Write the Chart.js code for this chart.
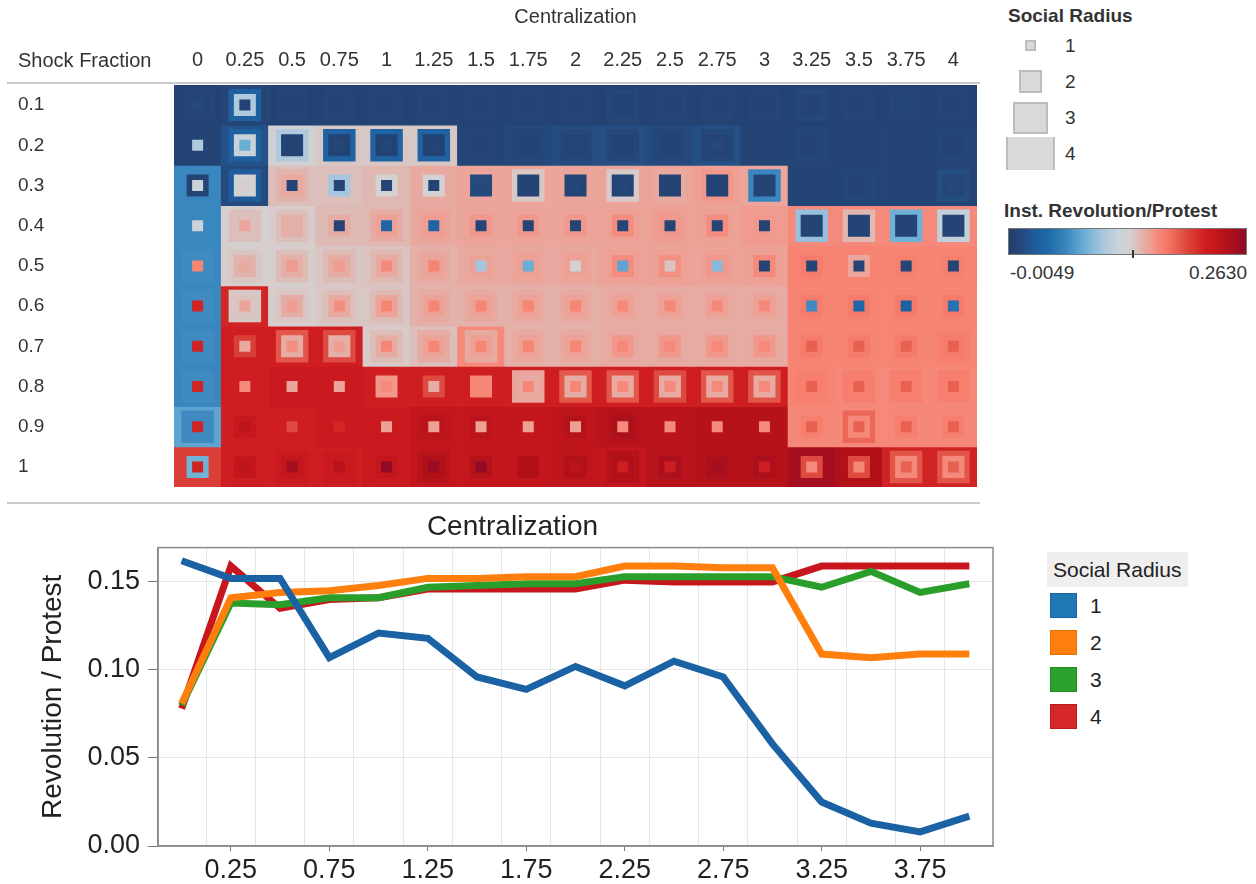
<!DOCTYPE html>
<html><head><meta charset="utf-8">
<script src="https://cdn.jsdelivr.net/npm/chart.js@4.4.1/dist/chart.umd.min.js"></script>
<style>
html,body{margin:0;padding:0;background:#fff;}
body{width:1256px;height:884px;position:relative;overflow:hidden;font-family:"Liberation Sans",Arial,sans-serif;color:#333;}
canvas{position:absolute;left:0;}
#heat{top:0;}
#line{top:505px;}
.abs{position:absolute;white-space:nowrap;}
.sq{position:absolute;box-sizing:border-box;background:#d9d9d9;border:2px solid #bcbcbc;}
.lsq{position:absolute;box-sizing:border-box;width:27px;height:25px;}
</style></head><body>
<canvas id="heat" width="1000" height="510"></canvas>
<canvas id="line" width="1010" height="379"></canvas>

<div class="abs" style="left:18px;top:48px;font-size:20px;line-height:24px;color:#333">Shock Fraction</div>
<div class="abs" style="left:7px;top:82px;width:973px;height:2px;background:#c9c9c9"></div>
<div class="abs" style="left:7px;top:502px;width:973px;height:2px;background:#c9c9c9"></div>

<div class="abs" style="left:1008px;top:4px;font-size:19px;line-height:24px;font-weight:bold;color:#333">Social Radius</div>
<div class="sq" style="left:1025px;top:40px;width:11px;height:11px"></div>
<div class="sq" style="left:1019px;top:70px;width:23px;height:23px"></div>
<div class="sq" style="left:1013px;top:102px;width:35px;height:32px"></div>
<div class="sq" style="left:1006px;top:137px;width:49px;height:33px;border-top:none;border-bottom:none"></div>
<div class="abs" style="left:1065px;top:34px;font-size:19px;line-height:24px">1</div>
<div class="abs" style="left:1065px;top:70px;font-size:19px;line-height:24px">2</div>
<div class="abs" style="left:1065px;top:106px;font-size:19px;line-height:24px">3</div>
<div class="abs" style="left:1065px;top:142px;font-size:19px;line-height:24px">4</div>

<div class="abs" style="left:1004px;top:199px;font-size:19px;line-height:24px;font-weight:bold;color:#333">Inst. Revolution/Protest</div>
<div id="cbar" class="abs" style="left:1008px;top:228px;width:239px;height:27px;box-sizing:border-box;border:1px solid #777"></div>
<div class="abs" style="left:1132px;top:250px;width:2px;height:8px;background:#333"></div>
<div class="abs" style="left:1010px;top:261px;font-size:19px;line-height:24px">-0.0049</div>
<div class="abs" style="right:9px;top:261px;font-size:19px;line-height:24px">0.2630</div>

<div class="abs" style="left:1047px;top:552px;width:141px;height:35px;background:#efefef;font-size:21px;line-height:35px;padding-left:6px;box-sizing:border-box;color:#222">Social Radius</div>
<div class="lsq" style="left:1050px;top:593px;background:#1f77b4;border:1px solid #1a65a0"></div>
<div class="lsq" style="left:1050px;top:630px;background:#ff7f0e;border:1px solid #e87000"></div>
<div class="lsq" style="left:1050px;top:667px;background:#2ca02c;border:1px solid #228a22"></div>
<div class="lsq" style="left:1050px;top:704px;background:#d62728;border:1px solid #b81c1d"></div>
<div class="abs" style="left:1090px;top:593px;font-size:21px;line-height:26px;color:#222">1</div>
<div class="abs" style="left:1090px;top:630px;font-size:21px;line-height:26px;color:#222">2</div>
<div class="abs" style="left:1090px;top:667px;font-size:21px;line-height:26px;color:#222">3</div>
<div class="abs" style="left:1090px;top:704px;font-size:21px;line-height:26px;color:#222">4</div>

<script>
// ---------- DATA ----------
const colLabels = ['0','0.25','0.5','0.75','1','1.25','1.5','1.75','2','2.25','2.5','2.75','3','3.25','3.5','3.75','4'];
const rowLabels = ['0.1','0.2','0.3','0.4','0.5','0.6','0.7','0.8','0.9','1'];
const radiusLabels = ['1','2','3','4'];

// Inst. Revolution/Protest per cell (rows = shock fraction, cols = centralization), one grid per social radius
const radius4 = [
 [0.002,0.004,0.002,0.002,0.002,0.002,0.002,0.002,0.002,0.002,0.002,0.002,0.002,0.002,0.002,0.002,0.002],
 [0.003,0.016,0.128,0.136,0.136,0.136,0.003,0.007,0.012,0.013,0.010,0.014,0.003,0.003,0.003,0.003,0.003],
 [0.060,0.010,0.140,0.140,0.143,0.150,0.152,0.152,0.152,0.153,0.153,0.155,0.152,0.003,0.003,0.003,0.003],
 [0.060,0.132,0.134,0.142,0.143,0.150,0.152,0.152,0.152,0.153,0.154,0.154,0.157,0.163,0.163,0.163,0.163],
 [0.060,0.133,0.133,0.137,0.138,0.146,0.150,0.150,0.150,0.153,0.154,0.153,0.154,0.167,0.167,0.167,0.167],
 [0.060,0.213,0.133,0.136,0.137,0.146,0.146,0.146,0.146,0.148,0.148,0.148,0.148,0.166,0.166,0.166,0.166],
 [0.060,0.218,0.218,0.218,0.135,0.140,0.163,0.146,0.146,0.148,0.148,0.148,0.148,0.166,0.166,0.166,0.166],
 [0.060,0.218,0.222,0.222,0.218,0.218,0.218,0.218,0.218,0.218,0.218,0.218,0.218,0.166,0.164,0.164,0.164],
 [0.075,0.218,0.218,0.222,0.222,0.228,0.228,0.228,0.232,0.236,0.236,0.238,0.238,0.164,0.164,0.164,0.164],
 [0.200,0.218,0.218,0.218,0.222,0.228,0.228,0.228,0.232,0.228,0.236,0.238,0.238,0.250,0.240,0.215,0.215]
];
const radius3 = [
 [0.004,0.030,0.004,0.004,0.004,0.004,0.004,0.004,0.004,0.007,0.004,0.004,0.004,0.008,0.004,0.004,0.004],
 [0.003,0.030,0.105,0.032,0.032,0.032,0.004,0.006,0.006,0.006,0.006,0.006,0.003,0.005,0.003,0.003,0.005],
 [0.060,0.025,0.145,0.140,0.143,0.150,0.152,0.136,0.152,0.135,0.150,0.158,0.060,0.003,0.005,0.003,0.012],
 [0.060,0.140,0.140,0.142,0.148,0.153,0.153,0.153,0.153,0.155,0.156,0.155,0.157,0.095,0.143,0.082,0.115],
 [0.062,0.137,0.141,0.142,0.143,0.150,0.151,0.152,0.152,0.155,0.155,0.155,0.155,0.167,0.167,0.167,0.167],
 [0.062,0.136,0.137,0.140,0.142,0.148,0.150,0.150,0.150,0.150,0.150,0.150,0.150,0.167,0.167,0.167,0.167],
 [0.062,0.218,0.190,0.195,0.141,0.148,0.150,0.150,0.150,0.150,0.150,0.150,0.150,0.167,0.167,0.167,0.170],
 [0.062,0.218,0.222,0.222,0.218,0.218,0.218,0.152,0.188,0.190,0.195,0.190,0.190,0.170,0.170,0.170,0.170],
 [0.062,0.218,0.218,0.222,0.222,0.232,0.228,0.228,0.232,0.238,0.236,0.238,0.238,0.164,0.182,0.164,0.164],
 [0.200,0.218,0.222,0.222,0.222,0.236,0.228,0.228,0.232,0.238,0.236,0.238,0.238,0.250,0.240,0.190,0.190]
];
const radius2 = [
 [0.003,0.105,0.003,0.003,0.003,0.003,0.003,0.003,0.003,0.003,0.003,0.003,0.003,0.003,0.003,0.003,0.003],
 [0.003,0.118,0.002,0.002,0.002,0.002,0.003,0.003,0.003,0.003,0.003,0.003,0.003,0.003,0.003,0.003,0.003],
 [0.003,0.130,0.150,0.100,0.130,0.130,0.010,0.003,0.003,0.003,0.003,0.003,0.003,0.003,0.003,0.003,0.005],
 [0.060,0.140,0.147,0.148,0.155,0.156,0.158,0.158,0.158,0.162,0.158,0.162,0.158,0.003,0.003,0.003,0.003],
 [0.062,0.145,0.147,0.148,0.150,0.153,0.154,0.155,0.155,0.162,0.161,0.158,0.163,0.172,0.152,0.170,0.170],
 [0.062,0.138,0.148,0.150,0.153,0.154,0.154,0.154,0.154,0.155,0.155,0.155,0.155,0.172,0.172,0.172,0.172],
 [0.062,0.200,0.148,0.147,0.148,0.154,0.155,0.154,0.154,0.158,0.158,0.158,0.158,0.172,0.172,0.172,0.172],
 [0.062,0.218,0.222,0.222,0.158,0.195,0.165,0.150,0.148,0.150,0.150,0.150,0.150,0.170,0.170,0.170,0.170],
 [0.062,0.226,0.218,0.222,0.225,0.235,0.235,0.228,0.238,0.245,0.235,0.238,0.238,0.170,0.164,0.170,0.170],
 [0.083,0.228,0.228,0.225,0.228,0.242,0.238,0.240,0.240,0.242,0.245,0.245,0.245,0.195,0.195,0.163,0.163]
];
const radius1 = [
 [0.008,0.002,0.002,0.002,0.002,0.002,0.002,0.002,0.002,0.002,0.002,0.002,0.002,0.002,0.002,0.006,0.002],
 [0.105,0.080,0.002,0.005,0.006,0.004,0.003,0.003,0.004,0.003,0.003,0.008,0.003,0.003,0.003,0.003,0.003],
 [0.120,0.133,0.003,0.003,0.003,0.003,0.008,0.003,0.006,0.006,0.003,0.003,0.003,0.003,0.003,0.003,0.008],
 [0.120,0.152,0.147,0.003,0.035,0.033,0.003,0.003,0.003,0.003,0.003,0.003,0.003,0.003,0.003,0.003,0.003],
 [0.166,0.150,0.157,0.157,0.163,0.167,0.100,0.080,0.130,0.075,0.138,0.090,0.003,0.003,0.003,0.003,0.003],
 [0.215,0.153,0.156,0.162,0.166,0.167,0.166,0.166,0.166,0.164,0.164,0.164,0.164,0.062,0.036,0.030,0.045],
 [0.215,0.150,0.162,0.156,0.166,0.166,0.166,0.166,0.166,0.164,0.164,0.164,0.164,0.185,0.185,0.185,0.185],
 [0.215,0.163,0.152,0.152,0.163,0.148,0.165,0.165,0.165,0.163,0.163,0.163,0.163,0.185,0.185,0.185,0.185],
 [0.215,0.235,0.195,0.212,0.155,0.155,0.155,0.155,0.155,0.163,0.163,0.163,0.163,0.185,0.185,0.185,0.185],
 [0.215,0.234,0.250,0.237,0.262,0.257,0.262,0.240,0.236,0.218,0.218,0.250,0.218,0.163,0.165,0.185,0.185]
];

// Line chart: Revolution / Protest vs Centralization
const centralization = [0,0.25,0.5,0.75,1,1.25,1.5,1.75,2,2.25,2.5,2.75,3,3.25,3.5,3.75,4];
const lineRadius1 = [0.162,0.152,0.152,0.107,0.121,0.118,0.096,0.089,0.102,0.091,0.105,0.096,0.058,0.025,0.013,0.008,0.017];
const lineRadius2 = [0.081,0.141,0.144,0.145,0.148,0.152,0.152,0.153,0.153,0.159,0.159,0.158,0.158,0.109,0.107,0.109,0.109];
const lineRadius3 = [0.080,0.138,0.137,0.141,0.141,0.147,0.148,0.149,0.149,0.153,0.153,0.153,0.153,0.147,0.156,0.144,0.149];
const lineRadius4 = [0.078,0.159,0.135,0.140,0.141,0.146,0.146,0.146,0.146,0.151,0.150,0.150,0.150,0.159,0.159,0.159,0.159];
const lineTickLabels = ['0.25','0.75','1.25','1.75','2.25','2.75','3.25','3.75'];
const yTickValues = [0,0.05,0.10,0.15];
const colorMin = -0.0049, colorMax = 0.2630;

// ---------- STYLE ----------
const FONT = '"Liberation Sans", Arial, sans-serif';
Chart.defaults.font.family = FONT;
const lineColors = ['#1a62a3','#ff7f0e','#2a9e2a','#c8161e'];
const cmapStops = [
 [-0.0049,'#223d6b'],[0.010,'#254b7e'],[0.025,'#1f5c9c'],[0.040,'#1f6aa9'],[0.060,'#3a87bf'],
 [0.080,'#6aaed6'],[0.100,'#a5c6de'],[0.120,'#cbd3da'],[0.132,'#d4d0cf'],[0.140,'#dcbfbb'],
 [0.148,'#e6aca4'],[0.155,'#eea095'],[0.163,'#f58a7c'],[0.168,'#f8826f'],[0.175,'#f2766a'],
 [0.185,'#e86050'],[0.195,'#dd4a3f'],[0.210,'#d42a27'],[0.220,'#cc1b1f'],[0.230,'#c2161d'],
 [0.240,'#b31119'],[0.250,'#a50e1f'],[0.263,'#8f0a28']
];
function hexRgb(h){return [parseInt(h.slice(1,3),16),parseInt(h.slice(3,5),16),parseInt(h.slice(5,7),16)];}
function colorFor(v){
  if (v <= cmapStops[0][0]) return cmapStops[0][1];
  for (let k = 1; k < cmapStops.length; k++) {
    if (v <= cmapStops[k][0]) {
      const [v0,c0] = cmapStops[k-1], [v1,c1] = cmapStops[k];
      const t = (v - v0) / (v1 - v0), a = hexRgb(c0), b = hexRgb(c1);
      return 'rgb(' + a.map((x,i)=>Math.round(x + (b[i]-x)*t)).join(',') + ')';
    }
  }
  return cmapStops[cmapStops.length-1][1];
}
document.getElementById('cbar').style.background = 'linear-gradient(to right,' +
  cmapStops.map(s => s[1] + ' ' + ((s[0]-colorMin)/(colorMax-colorMin)*100).toFixed(2) + '%').join(',') + ')';

// ---------- HEATMAP ----------
function points(grid){ const out=[]; grid.forEach((row,i)=>row.forEach((v,j)=>out.push({x:colLabels[j], y:i, v}))); return out; }
function squareSet(grid, side, order){
  const pts = points(grid);
  const r = side / Math.SQRT2;
  return { type:'scatter', data: pts, pointStyle:'rect', pointRadius:r, pointHoverRadius:r, pointHitRadius:0,
    pointBackgroundColor: pts.map(p=>colorFor(p.v)), pointBorderWidth:0, borderWidth:0, order };
}
const cellSets = rowLabels.map((_, i) => ({
  type:'bar', data: colLabels.map(() => [i - 0.5, i + 0.5]),
  backgroundColor: radius4[i].map(colorFor), borderWidth:0, grouped:false,
  barPercentage:1, categoryPercentage:1, order: 10
}));

new Chart(document.getElementById('heat'), {
  type:'bar',
  data:{ labels: colLabels, datasets:[ squareSet(radius1, 11, 0), squareSet(radius2, 22, 1), squareSet(radius3, 32.5, 2), ...cellSets ] },
  options:{
    responsive:false, animation:false, events:[],
    layout:{ padding:{ left:18, right:20, top:0, bottom:8 } },
    plugins:{ legend:{display:false}, tooltip:{enabled:false} },
    scales:{
      x:{ type:'category', position:'top', offset:true,
          grid:{display:false, drawTicks:false}, border:{display:false},
          ticks:{ font:{size:20}, color:'#333', padding:13, autoSkip:false, maxRotation:0 },
          title:{ display:true, text:'Centralization', font:{size:20}, color:'#333', padding:{top:5,bottom:0} },
          afterFit: s => { s.height = 85; } },
      y:{ type:'linear', min:-0.5, max:9.5, reverse:true,
          afterBuildTicks: s => { s.ticks = rowLabels.map((_, i) => ({value:i})); },
          ticks:{ callback:(v,i)=>rowLabels[i], crossAlign:'far', font:{size:19}, color:'#333', padding:0 },
          grid:{display:false, drawTicks:false}, border:{display:false},
          afterFit: s => { s.width = 156; } }
    }
  }
});

// ---------- LINE CHART ----------
const frame = { id:'frame', afterDatasetsDraw(chart){
  const {ctx, chartArea:a} = chart; ctx.save(); ctx.strokeStyle='#8a8a8a'; ctx.lineWidth=1.5;
  ctx.strokeRect(a.left, a.top, a.right-a.left, a.bottom-a.top); ctx.restore(); } };
const lineSeries = [lineRadius1, lineRadius2, lineRadius3, lineRadius4];
const midTicks = centralization.slice(1).map((x,i)=>(x + centralization[i]) / 2);
const labelTicks = lineTickLabels.map(Number);
const xTicks = [...midTicks, ...labelTicks].sort((a,b)=>a-b);
const isLabelTick = v => lineTickLabels.includes(v.toFixed(2));

new Chart(document.getElementById('line'), {
  type:'line',
  data:{ datasets: lineSeries.map((s,k)=>({
    label: radiusLabels[k], data: centralization.map((x,i)=>({x, y:s[i]})),
    borderColor: lineColors[k], backgroundColor: lineColors[k], borderWidth:7,
    pointRadius:0, tension:0, fill:false, borderJoinStyle:'miter' })) },
  options:{
    responsive:false, animation:false, events:[],
    layout:{ padding:{ left:32, right:17, top:0, bottom:0 } },
    plugins:{ legend:{display:false}, tooltip:{enabled:false},
      title:{ display:true, text:'Centralization', font:{size:28, weight:'normal'}, color:'#222', padding:{top:5,bottom:4} } },
    scales:{
      x:{ type:'linear', min:-0.12, max:4.12,
          afterBuildTicks: s => { s.ticks = xTicks.map(v=>({value:v})); },
          ticks:{ autoSkip:false, maxRotation:0, font:{size:27}, color:'#222', padding:3,
                  callback: v => isLabelTick(v) ? v.toFixed(2) : '' },
          grid:{ color: c => (c.tick && isLabelTick(c.tick.value)) ? 'rgba(0,0,0,0)' : '#e6e6e6',
                 tickColor: c => (c.tick && isLabelTick(c.tick.value)) ? '#777' : 'rgba(0,0,0,0)', tickLength:5 },
          border:{ display:true, color:'#8a8a8a', width:1.5 },
          afterFit: s => { s.height = 38; } },
      y:{ type:'linear', min:0, max:0.1695,
          afterBuildTicks: s => { s.ticks = yTickValues.map(v=>({value:v})); },
          ticks:{ font:{size:27}, color:'#222', padding:8, callback: v => v.toFixed(2) },
          grid:{ color: c => (c.tick && c.tick.value === 0) ? 'rgba(0,0,0,0)' : '#e6e6e6', tickColor:'#777', tickLength:10 },
          border:{ color:'#8a8a8a', width:1.5 },
          title:{ display:true, text:'Revolution / Protest', font:{size:28}, color:'#222', padding:{top:4,bottom:0} },
          afterFit: s => { s.width = 126; } }
    }
  },
  plugins:[frame]
});
</script>
</body></html>
